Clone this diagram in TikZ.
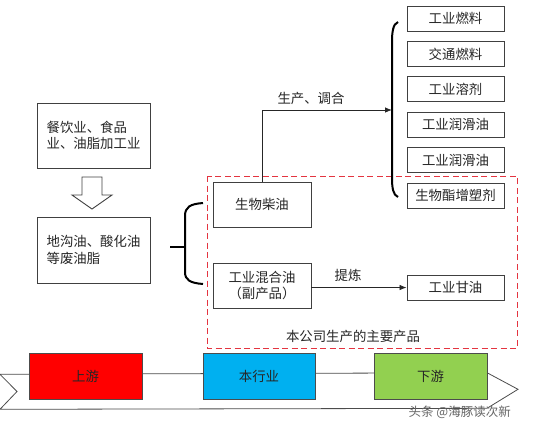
\documentclass[tikz,border=0pt]{standalone}
\usepackage{fontspec}
\setmainfont{Noto Sans CJK SC}
\usetikzlibrary{arrows.meta}
\definecolor{dashred}{RGB}{228,52,64}
\definecolor{upred}{RGB}{255,0,0}
\definecolor{midblue}{RGB}{0,176,240}
\definecolor{downgreen}{RGB}{146,208,80}
\begin{document}
\begin{tikzpicture}[x=1pt,y=-1pt,
  txt/.style={font=\fontsize{13.4}{16.5}\selectfont,text=black!85},
  box/.style={draw=black!75,line width=0.9pt,fill=white,inner sep=0pt,txt},
  prod/.style={box,minimum width=97pt,minimum height=25pt},
  brace/.style={draw=black,line width=2pt},
  conn/.style={draw=black!85,line width=0.8pt,-{Latex[length=7pt,width=5.5pt]}},
  band/.style={draw=black!70,line width=0.8pt,inner sep=0pt,minimum width=113pt,minimum height=46pt,txt}]
\useasboundingbox (0,0) rectangle (554,432);

% left column
\node[box,minimum width=113pt,minimum height=65pt,align=left] (src) at (93.5,135.5) {餐饮业、食品\\业、油脂加工业};
\node[box,minimum width=113pt,minimum height=66pt,align=left] (waste) at (93.5,250) {地沟油、酸化油\\等废油脂};
\draw[draw=black!75,line width=0.9pt,fill=white]
  (82,177) -- (102,177) -- (102,195) -- (112,195) -- (92,209) -- (72,195) -- (82,195) -- cycle;

% left brace
\coordinate (lbtick) at (170,247);
\coordinate (lbmid) at (185,247);
\draw[brace] (203,203) .. controls (190,204) and (185,207) .. (185,216) -- (185,272) .. controls (185,280) and (190,283) .. (203,284);
\draw[brace] (lbtick) -- (lbmid);

% company products
\draw[dashred,dashed,dash pattern=on 6pt off 3.5pt,line width=0.9pt] (207,176) rectangle (517,348);
\node[box,minimum width=98pt,minimum height=45pt] (bd) at (262,204.5) {生物柴油};
\node[box,minimum width=98pt,minimum height=45pt,align=center] (mix) at (262,285.5) {工业混合油\\（副产品）};
\node[prod] (gly) at (455.5,287.5) {工业甘油};
\node[txt] (lab1) at (353,336.5) {本公司生产的主要产品};
\draw[conn] (mix.east |- gly.west) -- (gly.west);
\node[txt] (lab2) at (348,275.5) {提炼};

% right products
\node[prod] (p1) at (455.5,18.5) {工业燃料};
\node[prod] (p2) at (455.5,53.9) {交通燃料};
\node[prod] (p3) at (455.5,89.3) {工业溶剂};
\node[prod] (p4) at (455.5,124.7) {工业润滑油};
\node[prod] (p5) at (455.5,160.1) {工业润滑油};
\node[prod] (p6) at (455.5,195.5) {生物酯增塑剂};

% right brace
\coordinate (rb) at (392,110);
\draw[brace] (398,22) .. controls (393,24) and (392,32) .. (392,42) -- (392,177) .. controls (392,188) and (393,195) .. (398,197);
\draw[conn] (bd.north) |- (rb);
\node[txt] (lab3) at (311,98) {生产、调合};

% bottom chain band
\draw[draw=black!70,line width=0.8pt,fill=white]
  (0,374.3) -- (487,372.7) -- (518,389.3) -- (487,408.3) -- (0,409.3) -- (17,391.5) -- cycle;
\node[band,fill=upred] (up) at (85.5,376) {上游};
\node[band,fill=midblue,minimum width=112pt] (mid) at (259,376) {本行业};
\node[band,fill=downgreen] (down) at (430.5,376) {下游};

% watermark
\node[anchor=east,inner sep=0pt,font=\fontsize{12.5}{14}\selectfont,text=black!60] (wm) at (511,412) {头条 @海豚读次新};
\end{tikzpicture}
\end{document}
